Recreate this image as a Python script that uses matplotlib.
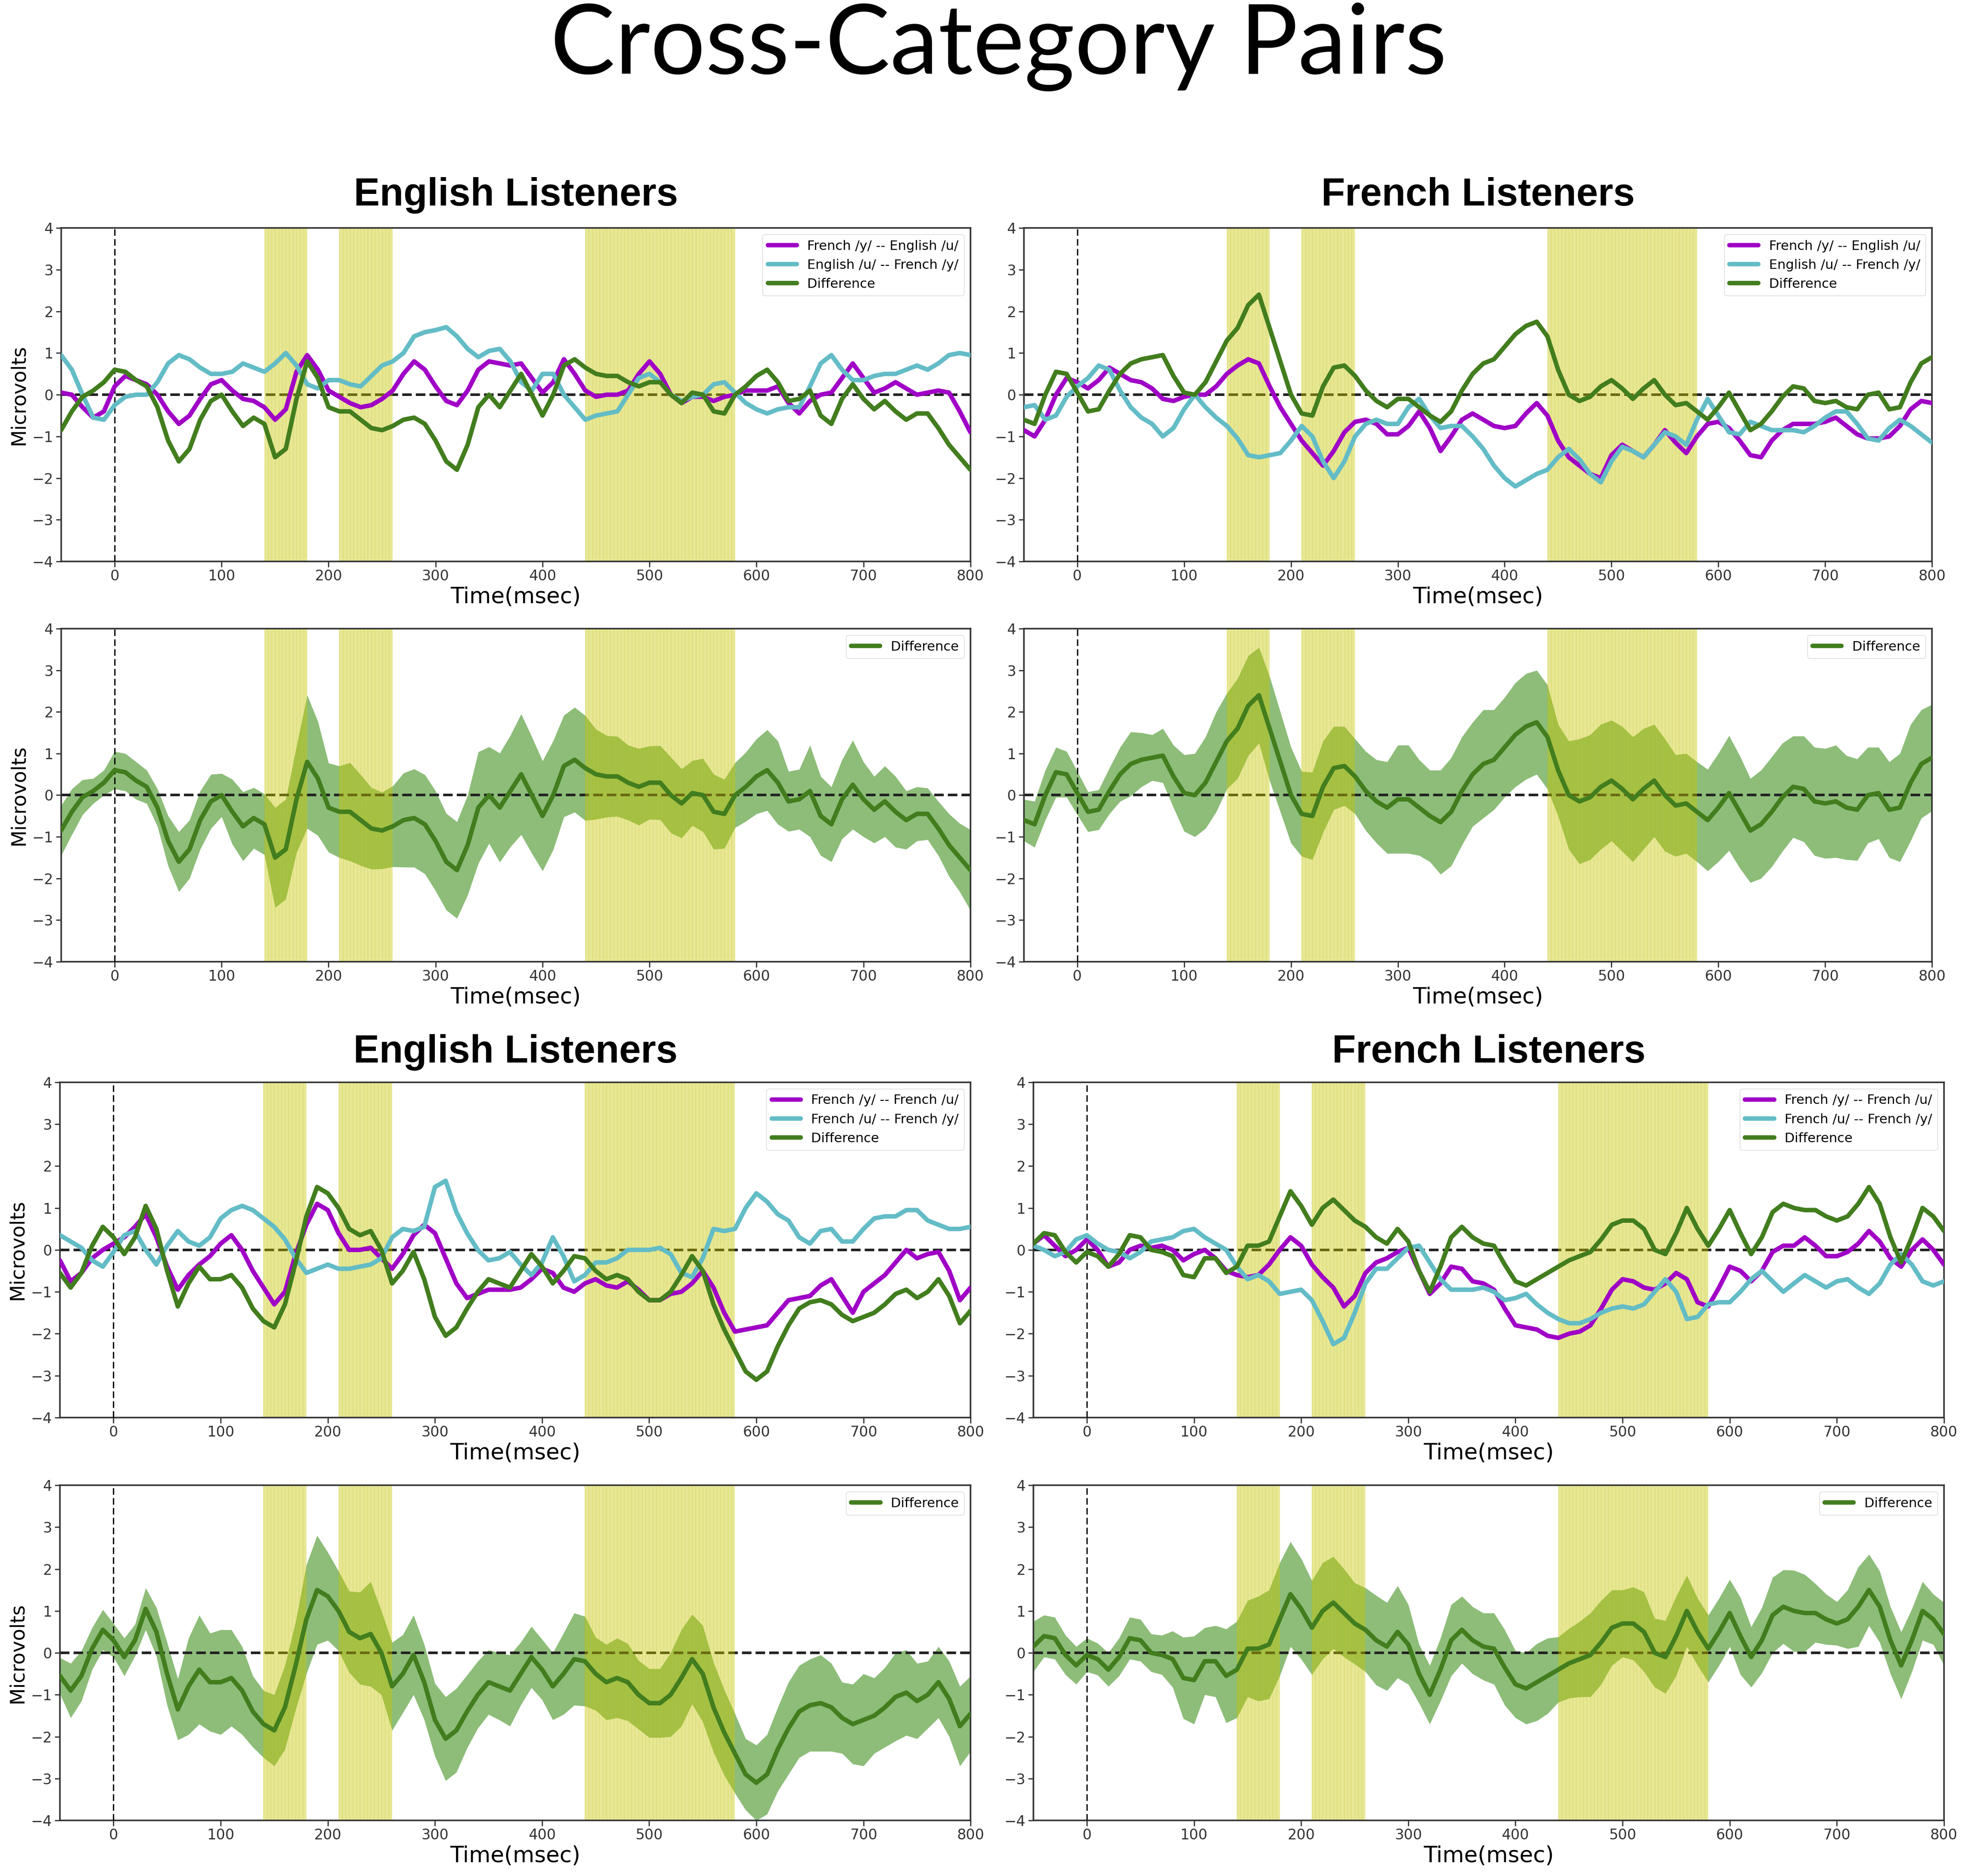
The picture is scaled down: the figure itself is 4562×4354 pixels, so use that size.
import numpy as np
import matplotlib
matplotlib.use("Agg")
import matplotlib.pyplot as plt

time_ms = np.arange(-50, 801, 10)
sig_windows = [(140, 180), (210, 260), (440, 580)]

labels_xc = ["French /y/ -- English /u/", "English /u/ -- French /y/", "Difference"]
labels_wc = ["French /y/ -- French /u/", "French /u/ -- French /y/", "Difference"]

# English listeners, cross-language pair
en_xc_purple = [0.05, 0.0, -0.3, -0.55, -0.4, 0.2, 0.45, 0.35, 0.25, 0.0,
                -0.4, -0.7, -0.5, -0.1, 0.25, 0.35, 0.1, -0.1, -0.15, -0.3,
                -0.6, -0.35, 0.55, 0.95, 0.6, 0.1, -0.05, -0.2, -0.3, -0.25,
                -0.1, 0.1, 0.5, 0.8, 0.6, 0.2, -0.15, -0.25, 0.1, 0.6,
                0.8, 0.75, 0.7, 0.75, 0.4, 0.05, 0.3, 0.85, 0.5, 0.1,
                -0.05, 0.0, 0.0, 0.1, 0.5, 0.8, 0.5, 0.0, -0.2, -0.05,
                -0.05, -0.15, -0.05, 0.0, 0.1, 0.1, 0.1, 0.2, -0.2, -0.45,
                -0.15, 0.0, 0.05, 0.4, 0.75, 0.4, 0.05, 0.15, 0.3, 0.15,
                0.0, 0.05, 0.1, 0.05, -0.4, -0.9]
en_xc_cyan = [0.95, 0.6, 0.0, -0.55, -0.6, -0.25, -0.05, 0.0, 0.0, 0.3,
              0.75, 0.95, 0.85, 0.65, 0.5, 0.5, 0.55, 0.75, 0.65, 0.55,
              0.75, 1.0, 0.7, 0.25, 0.15, 0.35, 0.35, 0.25, 0.2, 0.45,
              0.7, 0.8, 1.0, 1.4, 1.5, 1.55, 1.62, 1.4, 1.1, 0.9,
              1.05, 1.1, 0.8, 0.3, 0.1, 0.5, 0.5, 0.0, -0.3, -0.6,
              -0.5, -0.45, -0.4, 0.0, 0.4, 0.5, 0.3, 0.0, -0.15, -0.05,
              0.0, 0.25, 0.3, 0.05, -0.2, -0.35, -0.45, -0.35, -0.3, -0.3,
              0.2, 0.75, 0.95, 0.6, 0.35, 0.35, 0.45, 0.5, 0.5, 0.6,
              0.7, 0.6, 0.75, 0.95, 1.0, 0.95]
en_xc_diff = [-0.85, -0.4, -0.05, 0.1, 0.3, 0.6, 0.55, 0.35, 0.2, -0.3,
              -1.1, -1.6, -1.3, -0.6, -0.15, 0.0, -0.4, -0.75, -0.55, -0.7,
              -1.5, -1.3, -0.1, 0.8, 0.4, -0.3, -0.4, -0.4, -0.6, -0.8,
              -0.85, -0.75, -0.6, -0.55, -0.7, -1.1, -1.6, -1.8, -1.2, -0.3,
              0.0, -0.3, 0.1, 0.5, 0.0, -0.5, 0.0, 0.7, 0.85, 0.65,
              0.5, 0.45, 0.45, 0.3, 0.2, 0.3, 0.3, 0.0, -0.2, 0.05,
              0.0, -0.4, -0.45, 0.0, 0.2, 0.45, 0.6, 0.3, -0.15, -0.1,
              0.1, -0.5, -0.7, -0.1, 0.25, -0.1, -0.35, -0.15, -0.4, -0.6,
              -0.45, -0.45, -0.8, -1.2, -1.5, -1.8]
en_xc_ci = [0.6, 0.55, 0.42, 0.3, 0.3, 0.45, 0.45, 0.45, 0.4, 0.45,
            0.6, 0.72, 0.7, 0.7, 0.65, 0.52, 0.78, 0.83, 0.73, 0.73,
            1.2, 1.2, 1.28, 1.6, 1.37, 1.07, 1.1, 1.18, 1.09, 0.98,
            0.92, 0.97, 1.13, 1.18, 1.19, 1.2, 1.16, 1.16, 1.2, 1.34,
            1.16, 1.31, 1.34, 1.45, 1.4, 1.32, 1.31, 1.22, 1.26, 1.26,
            1.08, 0.98, 0.96, 0.9, 0.92, 0.88, 0.89, 0.91, 0.83, 0.78,
            0.88, 0.9, 0.83, 0.78, 0.83, 0.9, 0.97, 1.0, 0.72, 0.72,
            1.1, 0.95, 0.9, 0.95, 1.07, 0.9, 0.8, 0.85, 0.85, 0.7,
            0.65, 0.62, 0.65, 0.75, 0.82, 0.97]

# French listeners, cross-language pair
fr_xc_purple = [-0.85, -1.0, -0.6, 0.0, 0.4, 0.3, 0.15, 0.35, 0.65, 0.5,
                0.35, 0.3, 0.15, -0.1, -0.15, -0.05, 0.0, 0.0, 0.2, 0.5,
                0.7, 0.85, 0.75, 0.2, -0.3, -0.7, -1.1, -1.4, -1.7, -1.35,
                -0.9, -0.65, -0.6, -0.7, -0.95, -0.95, -0.75, -0.4, -0.8, -1.35,
                -1.0, -0.6, -0.45, -0.6, -0.75, -0.8, -0.75, -0.45, -0.2, -0.5,
                -1.1, -1.5, -1.7, -1.9, -2.0, -1.45, -1.2, -1.35, -1.5, -1.2,
                -0.85, -1.15, -1.4, -1.0, -0.7, -0.65, -0.8, -1.1, -1.45, -1.5,
                -1.1, -0.85, -0.7, -0.7, -0.7, -0.65, -0.55, -0.75, -0.95, -1.05,
                -1.05, -1.0, -0.75, -0.35, -0.15, -0.2]
fr_xc_cyan = [-0.3, -0.25, -0.6, -0.5, -0.05, 0.2, 0.4, 0.7, 0.6, 0.1,
              -0.3, -0.55, -0.7, -1.0, -0.8, -0.35, 0.0, -0.3, -0.55, -0.75,
              -1.05, -1.45, -1.5, -1.45, -1.4, -1.1, -0.75, -1.0, -1.6, -2.0,
              -1.6, -1.0, -0.7, -0.6, -0.7, -0.7, -0.3, -0.1, -0.5, -0.8,
              -0.75, -0.75, -1.0, -1.3, -1.7, -2.0, -2.2, -2.05, -1.9, -1.8,
              -1.5, -1.3, -1.55, -1.9, -2.1, -1.6, -1.25, -1.35, -1.5, -1.2,
              -0.9, -1.0, -1.2, -0.6, -0.1, -0.5, -0.9, -0.95, -0.65, -0.75,
              -0.85, -0.85, -0.85, -0.9, -0.75, -0.55, -0.4, -0.4, -0.7, -1.05,
              -1.1, -0.8, -0.6, -0.75, -0.95, -1.15]
fr_xc_diff = [-0.6, -0.7, 0.0, 0.55, 0.5, 0.05, -0.4, -0.35, 0.1, 0.5,
              0.75, 0.85, 0.9, 0.95, 0.45, 0.05, 0.0, 0.3, 0.8, 1.3,
              1.6, 2.15, 2.4, 1.6, 0.8, 0.0, -0.45, -0.5, 0.2, 0.65,
              0.7, 0.45, 0.1, -0.15, -0.3, -0.1, -0.1, -0.3, -0.5, -0.65,
              -0.4, 0.1, 0.5, 0.75, 0.85, 1.15, 1.45, 1.65, 1.75, 1.4,
              0.6, 0.0, -0.15, -0.05, 0.2, 0.35, 0.15, -0.1, 0.15, 0.35,
              0.0, -0.25, -0.2, -0.4, -0.6, -0.3, 0.05, -0.4, -0.85, -0.7,
              -0.4, -0.05, 0.2, 0.15, -0.15, -0.2, -0.15, -0.3, -0.35, 0.0,
              0.05, -0.35, -0.3, 0.3, 0.75, 0.9]
fr_xc_ci = [0.5, 0.55, 0.6, 0.6, 0.55, 0.52, 0.48, 0.48, 0.55, 0.65,
            0.77, 0.65, 0.55, 0.65, 0.75, 0.92, 1.0, 1.1, 1.2, 1.15,
            1.2, 1.2, 1.15, 1.25, 1.2, 1.15, 1.02, 1.05, 1.1, 1.0,
            0.95, 0.9, 0.95, 1.0, 1.1, 1.3, 1.3, 1.15, 1.1, 1.25,
            1.3, 1.3, 1.25, 1.3, 1.2, 1.2, 1.25, 1.27, 1.25, 1.25,
            1.1, 1.3, 1.5, 1.5, 1.5, 1.45, 1.5, 1.5, 1.45, 1.35,
            1.35, 1.22, 1.2, 1.2, 1.22, 1.3, 1.38, 1.35, 1.25, 1.3,
            1.32, 1.3, 1.22, 1.27, 1.3, 1.32, 1.35, 1.25, 1.22, 1.15,
            1.1, 1.15, 1.3, 1.4, 1.3, 1.28]

# English listeners, within-French pair
en_wc_purple = [-0.25, -0.75, -0.55, -0.2, 0.0, 0.15, 0.3, 0.55, 0.85, 0.3,
                -0.4, -0.95, -0.6, -0.35, -0.15, 0.15, 0.35, 0.0, -0.5, -0.9,
                -1.3, -1.0, -0.1, 0.6, 1.1, 0.95, 0.4, 0.0, 0.0, 0.05,
                -0.2, -0.45, -0.1, 0.35, 0.6, 0.4, -0.2, -0.8, -1.15, -1.05,
                -0.95, -0.95, -0.95, -0.9, -0.7, -0.45, -0.55, -0.9, -1.0, -0.8,
                -0.7, -0.85, -0.9, -0.75, -0.95, -1.2, -1.2, -1.05, -1.0, -0.8,
                -0.5, -0.9, -1.5, -1.95, -1.9, -1.85, -1.8, -1.5, -1.2, -1.15,
                -1.1, -0.85, -0.7, -1.1, -1.5, -1.0, -0.8, -0.6, -0.3, 0.0,
                -0.2, -0.1, -0.05, -0.5, -1.2, -0.9]
en_wc_cyan = [0.35, 0.2, 0.05, -0.25, -0.4, -0.05, 0.35, 0.45, 0.0, -0.35,
              0.1, 0.45, 0.2, 0.1, 0.3, 0.75, 0.95, 1.05, 0.95, 0.75,
              0.55, 0.25, -0.2, -0.55, -0.45, -0.35, -0.45, -0.45, -0.4, -0.35,
              -0.2, 0.3, 0.5, 0.45, 0.55, 1.5, 1.65, 0.9, 0.4, 0.0,
              -0.25, -0.2, -0.05, -0.35, -0.6, -0.3, 0.3, -0.15, -0.75, -0.6,
              -0.3, -0.3, -0.2, 0.0, 0.0, 0.0, 0.05, -0.1, -0.55, -0.65,
              -0.2, 0.5, 0.45, 0.5, 1.0, 1.35, 1.15, 0.85, 0.7, 0.3,
              0.15, 0.45, 0.5, 0.2, 0.2, 0.5, 0.75, 0.8, 0.8, 0.95,
              0.95, 0.7, 0.6, 0.5, 0.5, 0.55]
en_wc_diff = [-0.55, -0.9, -0.55, 0.1, 0.55, 0.3, -0.1, 0.3, 1.05, 0.5,
              -0.5, -1.35, -0.8, -0.4, -0.7, -0.7, -0.6, -0.9, -1.4, -1.7,
              -1.85, -1.3, -0.3, 0.8, 1.5, 1.35, 1.0, 0.5, 0.35, 0.45,
              0.0, -0.8, -0.5, -0.05, -0.7, -1.6, -2.05, -1.85, -1.4, -1.0,
              -0.7, -0.8, -0.9, -0.5, -0.1, -0.4, -0.8, -0.5, -0.15, -0.2,
              -0.5, -0.7, -0.6, -0.7, -1.0, -1.2, -1.2, -1.0, -0.6, -0.15,
              -0.5, -1.3, -1.9, -2.4, -2.9, -3.1, -2.9, -2.3, -1.8, -1.4,
              -1.25, -1.2, -1.3, -1.55, -1.7, -1.6, -1.5, -1.3, -1.05, -0.95,
              -1.15, -1.0, -0.7, -1.1, -1.75, -1.45]
en_wc_ci = [0.43, 0.65, 0.6, 0.5, 0.48, 0.4, 0.45, 0.38, 0.5, 0.58,
            0.75, 0.73, 1.15, 1.3, 1.17, 1.25, 1.15, 1.05, 0.85, 0.8,
            0.85, 1.0, 1.05, 1.3, 1.3, 1.05, 0.95, 0.97, 1.1, 1.25,
            1.0, 1.05, 0.93, 0.95, 0.9, 0.87, 1.0, 1.0, 0.87, 0.8,
            0.77, 0.8, 0.85, 0.75, 0.73, 0.72, 0.8, 0.97, 1.1, 1.07,
            0.87, 0.9, 0.95, 0.92, 0.82, 0.82, 0.82, 1.0, 1.15, 1.07,
            1.15, 1.07, 1.02, 0.95, 0.85, 0.9, 0.95, 1.0, 1.1, 1.1,
            1.1, 1.15, 1.05, 0.85, 0.95, 1.1, 0.9, 0.95, 1.05, 1.02,
            0.9, 0.8, 0.85, 0.9, 0.95, 0.9]

# French listeners, within-French pair
fr_wc_purple = [0.15, 0.35, 0.1, -0.15, 0.0, 0.25, 0.0, -0.4, -0.3, 0.0,
                0.1, 0.05, 0.1, 0.0, -0.25, -0.1, 0.0, -0.2, -0.5, -0.6,
                -0.65, -0.6, -0.35, 0.0, 0.3, 0.1, -0.35, -0.65, -0.9, -1.35,
                -1.1, -0.55, -0.3, -0.2, -0.05, 0.05, -0.5, -1.05, -0.8, -0.4,
                -0.45, -0.75, -0.8, -0.95, -1.4, -1.8, -1.85, -1.9, -2.05, -2.1,
                -2.0, -1.95, -1.8, -1.4, -0.95, -0.7, -0.75, -0.9, -0.95, -0.8,
                -0.55, -0.7, -1.25, -1.35, -0.9, -0.4, -0.5, -0.75, -0.5, -0.05,
                0.1, 0.1, 0.3, 0.1, -0.15, -0.15, -0.05, 0.15, 0.45, 0.2,
                -0.2, -0.4, 0.0, 0.25, 0.0, -0.35]
fr_wc_cyan = [0.1, 0.0, -0.15, -0.05, 0.25, 0.35, 0.15, 0.0, -0.05, -0.2,
              -0.05, 0.2, 0.25, 0.3, 0.45, 0.5, 0.3, 0.15, 0.0, -0.4,
              -0.7, -0.6, -0.75, -1.05, -1.0, -0.95, -1.2, -1.7, -2.25, -2.1,
              -1.5, -0.8, -0.45, -0.45, -0.2, 0.05, 0.1, -0.3, -0.7, -0.95,
              -0.95, -0.95, -0.9, -1.0, -1.2, -1.15, -1.05, -1.3, -1.5, -1.65,
              -1.75, -1.75, -1.65, -1.5, -1.4, -1.35, -1.4, -1.3, -1.0, -0.7,
              -1.0, -1.65, -1.6, -1.3, -1.25, -1.25, -1.0, -0.7, -0.5, -0.75,
              -1.0, -0.8, -0.6, -0.75, -0.9, -0.75, -0.7, -0.9, -1.05, -0.8,
              -0.35, -0.1, -0.35, -0.75, -0.85, -0.75]
fr_wc_diff = [0.15, 0.4, 0.35, -0.05, -0.3, -0.05, -0.15, -0.4, -0.1, 0.35,
              0.3, 0.0, -0.05, -0.15, -0.6, -0.65, -0.2, -0.2, -0.55, -0.4,
              0.1, 0.1, 0.2, 0.8, 1.4, 1.05, 0.6, 1.0, 1.2, 0.95,
              0.7, 0.55, 0.3, 0.15, 0.5, 0.2, -0.5, -1.0, -0.4, 0.3,
              0.55, 0.3, 0.15, 0.1, -0.35, -0.75, -0.85, -0.7, -0.55, -0.4,
              -0.25, -0.15, -0.05, 0.25, 0.6, 0.7, 0.7, 0.5, 0.0, -0.1,
              0.4, 1.0, 0.5, 0.1, 0.5, 0.95, 0.4, -0.1, 0.3, 0.9,
              1.1, 1.0, 0.95, 0.95, 0.8, 0.7, 0.8, 1.1, 1.5, 1.1,
              0.3, -0.3, 0.3, 1.0, 0.8, 0.45]
fr_wc_ci = [0.6, 0.5, 0.5, 0.47, 0.45, 0.4, 0.38, 0.4, 0.45, 0.5,
            0.5, 0.45, 0.47, 0.67, 0.97, 1.05, 0.8, 0.85, 1.12, 1.15,
            1.15, 1.25, 1.3, 1.35, 1.25, 1.2, 1.12, 1.15, 1.1, 1.05,
            0.97, 1.0, 1.07, 1.05, 1.1, 0.95, 0.7, 0.7, 0.75, 0.85,
            0.8, 0.8, 0.8, 0.85, 0.9, 0.8, 0.85, 0.92, 0.9, 0.78,
            0.83, 0.9, 1.0, 1.0, 0.9, 0.8, 0.87, 0.95, 0.82, 0.87,
            0.95, 0.85, 0.8, 0.8, 0.8, 0.8, 0.92, 0.72, 0.78, 0.9,
            0.88, 0.97, 0.92, 0.7, 0.6, 0.52, 0.7, 0.95, 0.85, 0.85,
            0.8, 0.8, 0.75, 0.7, 0.6, 0.75]

PURPLE = "#a000c6"
CYAN = "#63bcc6"
GREEN = "#427d1e"
BAND = "#8dbd79"

fig = plt.figure(figsize=(45.62, 43.54), dpi=100)


def setup(ax, ylab):
    for lo, hi in sig_windows:
        ax.axvspan(lo, hi, color=(0.78, 0.78, 0.0), alpha=0.42, lw=0, zorder=2)
        ax.vlines(np.arange(lo, hi, 10 / 3), -4, 4, color=(0.7, 0.7, 0.0),
                  alpha=0.22, lw=1.0, zorder=2)
    ax.axhline(0, color="#222222", ls="--", lw=4.3, zorder=1.5)
    ax.axvline(0, color="black", ls=(0, (5, 2.5)), lw=2.2, zorder=3)
    ax.set_xlim(-50, 800)
    ax.set_ylim(-4, 4)
    ax.set_xticks(range(0, 801, 100))
    ax.set_yticks(range(-4, 5))
    ax.tick_params(labelsize=24, length=9, width=2, colors="#333333", pad=4)
    for s in ax.spines.values():
        s.set_linewidth(2.6)
        s.set_color("#333333")
    ax.set_xlabel("Time(msec)", fontsize=37)
    ax.xaxis.set_label_coords(0.5, -0.075)
    if ylab:
        ax.set_ylabel("Microvolts", fontsize=33)
        ax.yaxis.set_label_coords(-0.036, 0.5)


def curve(ax, y, color, label):
    ax.plot(time_ms, y, color=color, lw=7.5, label=label, zorder=3,
            solid_joinstyle="round", solid_capstyle="round")


def lines_panel(rect, p, c, d, labels, ylab, title, title_y):
    ax = fig.add_axes(rect)
    setup(ax, ylab)
    curve(ax, p, PURPLE, labels[0])
    curve(ax, c, CYAN, labels[1])
    curve(ax, d, GREEN, labels[2])
    ax.legend(loc="upper right", fontsize=22, handlelength=2.2)
    ax.text(0.5, title_y, title, transform=ax.transAxes, ha="center",
            va="baseline", fontsize=65, fontweight="bold", family="Liberation Sans")
    return ax


def band_panel(rect, d, ci, ylab):
    ax = fig.add_axes(rect)
    setup(ax, ylab)
    d = np.array(d)
    ci = np.array(ci)
    ax.fill_between(time_ms, d - ci, d + ci, color=BAND, lw=0, zorder=1)
    curve(ax, d, GREEN, "Difference")
    ax.legend(loc="upper right", fontsize=22, handlelength=2.2)
    return ax


lines_panel([0.0311, 0.7007, 0.4625, 0.1778], en_xc_purple, en_xc_cyan, en_xc_diff,
            labels_xc, True, "English Listeners", 1.067)
band_panel([0.0311, 0.4874, 0.4625, 0.1775], en_xc_diff, en_xc_ci, True)
lines_panel([0.5208, 0.7007, 0.4619, 0.1778], fr_xc_purple, fr_xc_cyan, fr_xc_diff,
            labels_xc, False, "French Listeners", 1.067)
band_panel([0.5208, 0.4874, 0.4619, 0.1775], fr_xc_diff, fr_xc_ci, False)

lines_panel([0.0305, 0.2444, 0.4632, 0.1787], en_wc_purple, en_wc_cyan, en_wc_diff,
            labels_wc, True, "English Listeners", 1.059)
band_panel([0.0305, 0.0296, 0.4632, 0.1787], en_wc_diff, en_wc_ci, True)
lines_panel([0.5256, 0.2444, 0.4632, 0.1787], fr_wc_purple, fr_wc_cyan, fr_wc_diff,
            labels_wc, False, "French Listeners", 1.059)
band_panel([0.5256, 0.0296, 0.4632, 0.1787], fr_wc_diff, fr_wc_ci, False)

fig.text(0.508, 0.975, "Cross-Category Pairs", ha="center", va="center",
         fontsize=162, family="Lato")

fig.savefig("out.png", dpi=100)
